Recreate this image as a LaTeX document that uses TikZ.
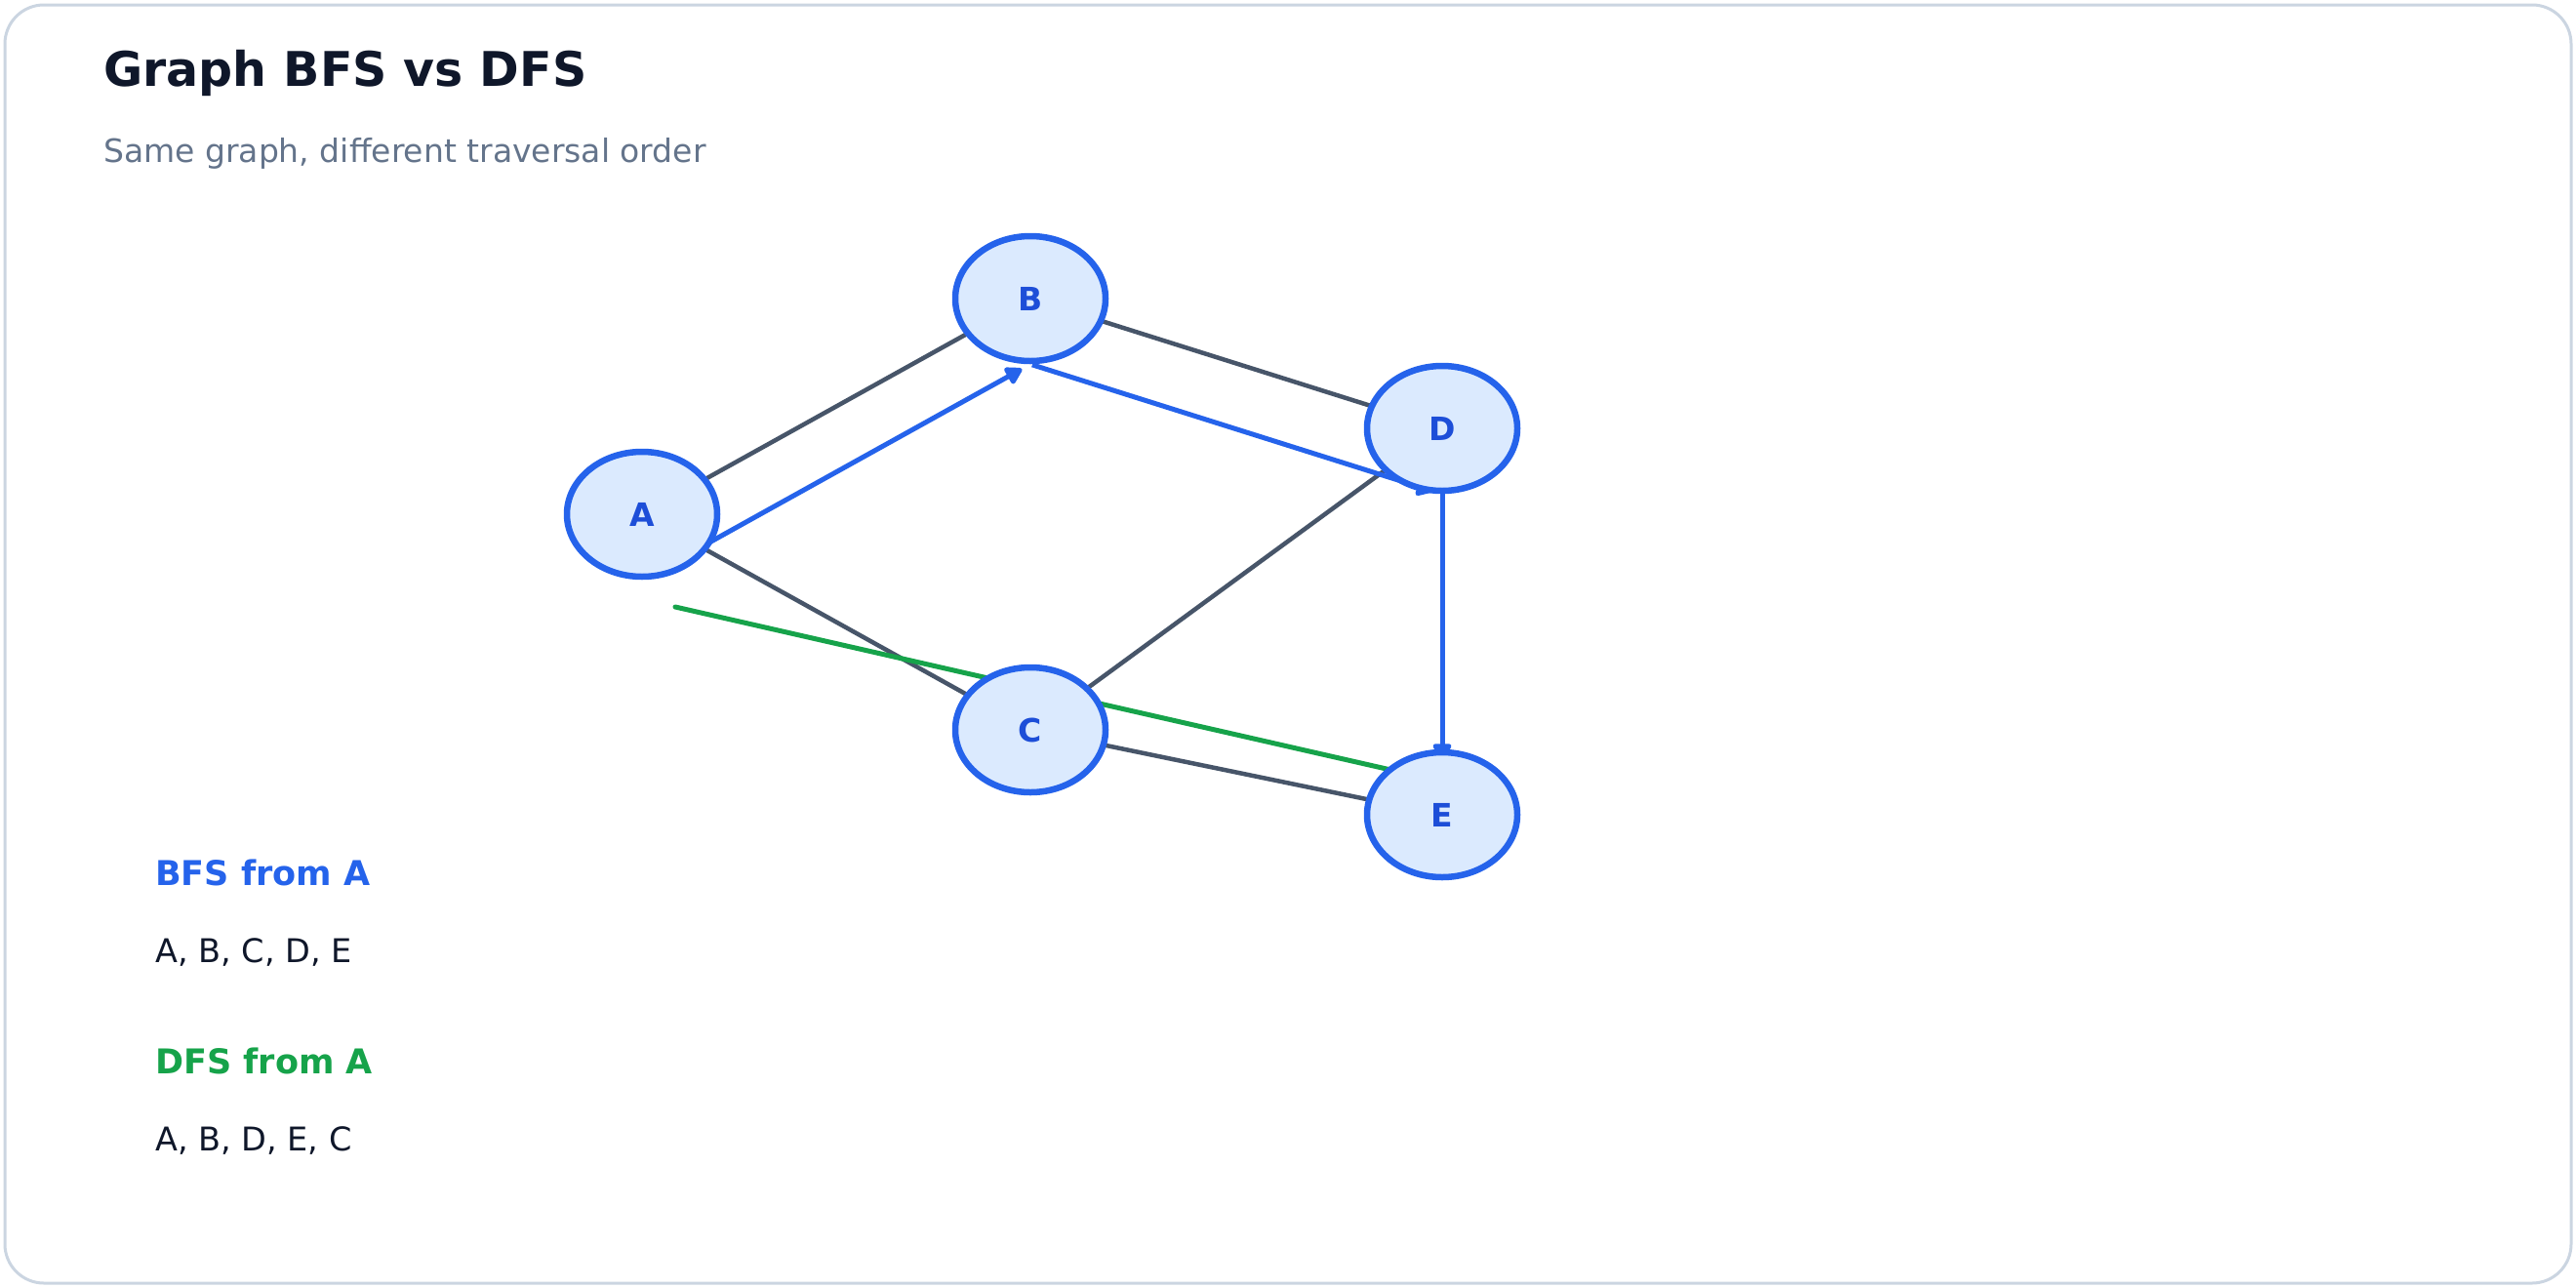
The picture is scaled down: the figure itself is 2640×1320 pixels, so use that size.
\documentclass[tikz,border=0pt]{standalone}
\usepackage{fontspec}
\setmainfont{DejaVu Sans}
\usetikzlibrary{shapes.geometric,arrows.meta}
\pgfdeclarelayer{bg}
\pgfsetlayers{bg,main}

\definecolor{framegray}{HTML}{CBD5E1}
\definecolor{edgegray}{HTML}{475569}
\definecolor{bfsblue}{HTML}{2563EB}
\definecolor{labelblue}{HTML}{1D4ED8}
\definecolor{nodefill}{HTML}{DBEAFE}
\definecolor{dfsgreen}{HTML}{16A34A}
\definecolor{titleink}{HTML}{0F172A}
\definecolor{subink}{HTML}{64748B}

\tikzset{
  vertex/.style={ellipse, draw=bfsblue, fill=nodefill, line width=6.5pt,
    minimum width=154pt, minimum height=128pt, inner sep=0pt,
    text=labelblue, font=\fontsize{33}{38}\selectfont\bfseries},
  edge/.style={draw=edgegray, line width=4.5pt},
  bfsedge/.style={draw=bfsblue, line width=5pt,
    -{Triangle[length=19pt,width=21pt,round]}},
  dfsedge/.style={draw=dfsgreen, line width=5pt, line cap=round},
  legend/.style={anchor=base west, inner sep=0pt}
}

\begin{document}
\begin{tikzpicture}[x=1pt, y=-1pt]
  \useasboundingbox (0,0) rectangle (2640,1320);

  % graph nodes
  \node[vertex] (A) at (658,527) {A};
  \node[vertex] (B) at (1056,306) {B};
  \node[vertex] (D) at (1478,439) {D};
  \node[vertex] (C) at (1056,748) {C};
  \node[vertex] (E) at (1478,835) {E};

  \coordinate (dfsstart) at (692,622);

  \begin{pgfonlayer}{bg}
    \draw[framegray, line width=3pt, fill=white, rounded corners=40pt] (5,5) rectangle (2635,1315);

    % undirected edges
    \draw[edge] (A.center) -- (B.center);
    \draw[edge] (A.center) -- (C.center);
    \draw[edge] (B.center) -- (D.center);
    \draw[edge] (C.center) -- (D.center);
    \draw[edge] (C.center) -- (E.center);

    % traversal paths
    \draw[dfsedge] (dfsstart) -- ([yshift=34pt]E.center);
    \draw[bfsedge, shorten <=8pt, shorten >=10pt] (A.south) -- (B.south);
    \draw[bfsedge, shorten <=2pt, shorten >=10pt] (B.south) -- (D.south);
    \draw[bfsedge] (D.south) -- ([yshift=-11pt]E.north);
  \end{pgfonlayer}

  % titles
  \node[legend, text=titleink, font=\fontsize{49}{56}\selectfont\bfseries] (title) at (106,88) {Graph BFS vs DFS};
  \node[legend, text=subink, font=\fontsize{33}{38}\selectfont] (subtitle) at (106,166) {Same graph, different traversal order};

  % legend
  \node[legend, text=bfsblue, font=\fontsize{35}{42}\selectfont\bfseries] (bfshead) at (159,907) {BFS from A};
  \node[legend, text=titleink, font=\fontsize{33.5}{40}\selectfont] (bfsorder) at (159,986) {A, B, C, D, E};
  \node[legend, text=dfsgreen, font=\fontsize{35}{42}\selectfont\bfseries] (dfshead) at (159,1100) {DFS from A};
  \node[legend, text=titleink, font=\fontsize{33.5}{40}\selectfont] (dfsorder) at (159,1179) {A, B, D, E, C};
\end{tikzpicture}
\end{document}
